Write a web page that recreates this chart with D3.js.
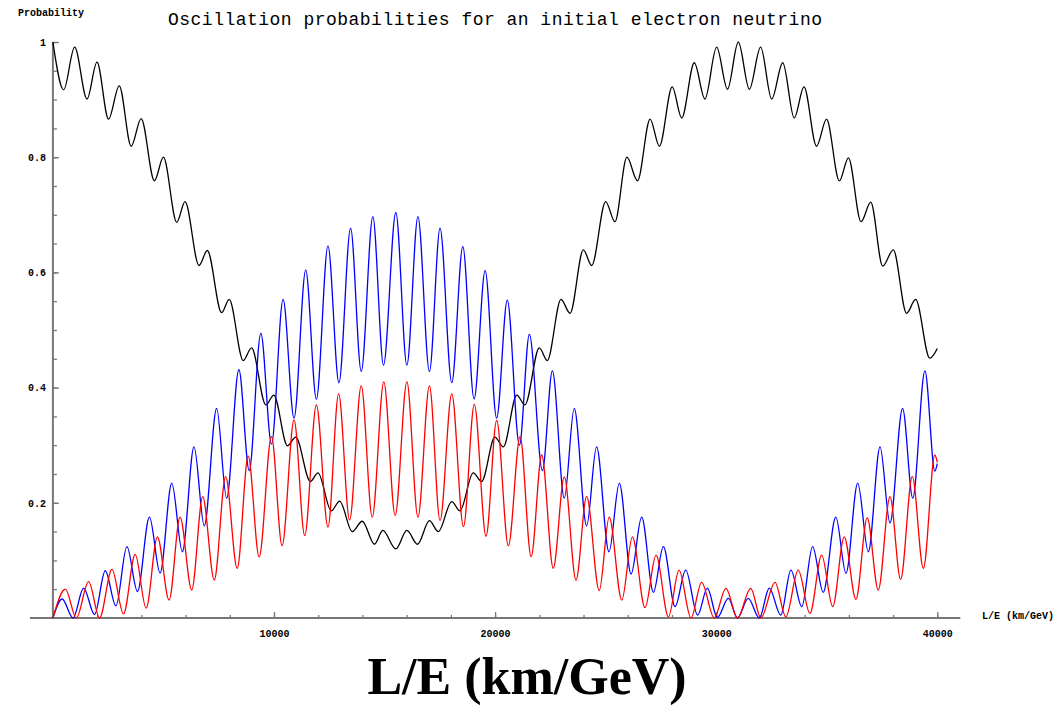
<!DOCTYPE html>
<html>
<head>
<meta charset="utf-8">
<script src="https://cdn.jsdelivr.net/npm/d3@7"></script>
<style>
  body { margin: 0; background: #fff; }
  svg { display: block; }
  .axis text { font-family: "Liberation Mono", monospace; font-weight: bold; font-size: 10px; fill: #000; }
  .axis line { stroke: #777; stroke-width: 1.3; }
</style>
</head>
<body>
<svg id="chart" width="1055" height="705"></svg>
<script>
// tick values
const xTicksMinor = d3.range(2000, 40001, 2000);
const xTicksMajor = [10000, 20000, 30000, 40000];
const yTicksMinor = d3.range(0.05, 1.001, 0.05);
const yTicksMajor = [0.2, 0.4, 0.6, 0.8, 1];

// [L/E, probability] at the turning points of each curve
const pElectron = [
  [0,1.0],[487,.917],[983,.991],[1543,.901],[1994,.965],[2517,.866],[3000,.924],[3541,.819],
  [3992,.867],[4592,.759],[4998,.800],[5602,.687],[5977,.723],[6608,.612],[6983,.638],[7632,.530],
  [7975,.553],[8607,.447],[8985,.469],[9630,.370],[9991,.387],[10609,.299],[10983,.314],[11646,.237],
  [11990,.252],[12593,.186],[12968,.203],[13541,.150],[13992,.168],[14547,.128],[14921,.152],[15510,.120],
  [16010,.152],[16490,.128],[17030,.169],[17430,.150],[18040,.202],[18410,.186],[19010,.252],[19390,.237],
  [19990,.314],[20370,.297],[20980,.387],[21350,.370],[22000,.469],[22360,.447],[22980,.553],[23390,.529],
  [23990,.639],[24370,.612],[25000,.723],[25420,.688],[25960,.800],[26440,.759],[27010,.866],[27430,.819],
  [28010,.922],[28440,.868],[29010,.964],[29490,.901],[30020,.991],[30510,.918],[31000,1.0],[31500,.918],
  [32010,.991],[32510,.901],[33010,.964],[33530,.868],[33970,.922],[34540,.819],[34990,.866],[35570,.759],
  [35980,.799],[36550,.688],[36990,.722],[37530,.611],[38010,.639],[38610,.529],[39020,.553],[39660,.451],
  [40000,.468]
];

const pMuon = [
  [0,0],[415,.033],[911,0],[1389,.052],[1885,.006],[2368,.082],[2851,.021],[3347,.124],
  [3825,.046],[4366,.175],[4849,.078],[5376,.234],[5855,.115],[6382,.297],[6847,.160],[7406,.364],
  [7857,.208],[8412,.431],[8877,.256],[9405,.494],[9887,.302],[10411,.553],[10907,.347],[11434,.604],
  [11917,.380],[12441,.646],[12937,.4085],[13464,.677],[13946,.428],[14470,.697],[14953,.439],[15510,.704],
  [16010,.439],[16510,.697],[17030,.428],[17510,.677],[18040,.4085],[18540,.645],[19050,.380],[19550,.603],
  [20070,.347],[20550,.552],[21100,.300],[21550,.4925],[22140,.256],[22590,.429],[23130,.208],[23580,.364],
  [24140,.160],[24590,.297],[25150,.115],[25620,.234],[26150,.0764],[26630,.175],[27160,.0446],[27610,.124],
  [28140,.0197],[28620,.083],[29160,.005],[29600,.052],[30050,.001],[30550,.034],[30960,0],[31450,.034],
  [31950,0],[32400,.052],[32920,.005],[33380,.083],[33870,.0197],[34360,.124],[34840,.0446],[35410,.175],
  [35870,.0776],[36400,.234],[36880,.115],[37410,.297],[37860,.165],[38430,.364],[38890,.208],[39440,.429],
  [39890,.255],[40000,.268]
];

const pTau = [
  [0,0],[564,.050],[1060,0],[1615,.063],[2111,0],[2670,.0845],[3194,.007],[3721,.1106],
  [4217,.017],[4727,.141],[5255,.031],[5751,.175],[6279,.0486],[6775,.2106],[7298,.066],[7812,.2453],
  [8336,.086],[8832,.281],[9328,.106],[9887,.315],[10366,.1255],[10907,.344],[11389,.143],[11917,.370],
  [12441,.158],[12923,.389],[13419,.170],[13946,.403],[14443,.175],[14966,.410],[15480,.178],[16010,.410],
  [16510,.175],[17030,.403],[17510,.169],[18040,.389],[18570,.1586],[19060,.371],[19590,.142],[20070,.343],
  [20600,.1255],[21130,.315],[21630,.1065],[22110,.283],[22630,.0863],[23130,.245],[23660,.066],[24140,.211],
  [24710,.0475],[25160,.175],[25730,.031],[26210,.141],[26780,.018],[27280,.109],[27840,.002],[28320,.083],
  [28860,0],[29340,.062],[29910,0],[30440,.0516],[30960,0],[31560,.0516],[32020,0],[32660,.062],
  [33150,.002],[33710,.083],[34240,.008],[34770,.109],[35270,.0197],[35790,.141],[36320,.0324],[36830,.174],
  [37330,.0486],[37860,.2106],[38340,.067],[38870,.2453],[39370,.086],[39890,.283],[40000,.27]
];

const series = [
  { name: "e", data: pElectron, color: "#000000" },
  { name: "mu", data: pMuon, color: "#0000ff" },
  { name: "tau", data: pTau, color: "#ff0000" }
];

const svg = d3.select("#chart");

const x = d3.scaleLinear().domain([0, 40000]).range([52.9, 937.3]);
const y = d3.scaleLinear().domain([0, 1]).range([618, 42]);

// axis lines
svg.append("line")
  .attr("x1", x(0) - 23).attr("x2", x(40000) + 23)
  .attr("y1", y(0)).attr("y2", y(0))
  .attr("stroke", "#777").attr("stroke-width", 2);

svg.append("line")
  .attr("x1", x(0)).attr("x2", x(0))
  .attr("y1", y(0)).attr("y2", y(1))
  .attr("stroke", "#777").attr("stroke-width", 2);

// x ticks
svg.append("g")
  .attr("class", "axis")
  .attr("transform", `translate(0,${y(0)})`)
  .call(d3.axisBottom(x).tickValues(xTicksMinor).tickSize(-3).tickFormat(""))
  .call(g => g.select(".domain").remove());

svg.append("g")
  .attr("class", "axis")
  .attr("transform", `translate(0,${y(0)})`)
  .call(d3.axisBottom(x).tickValues(xTicksMajor).tickSize(-6).tickPadding(12).tickFormat(d3.format("d")))
  .call(g => g.select(".domain").remove());

// y ticks
svg.append("g")
  .attr("class", "axis")
  .attr("transform", `translate(${x(0)},0)`)
  .call(d3.axisLeft(y).tickValues(yTicksMinor).tickSize(-4).tickFormat(""))
  .call(g => g.select(".domain").remove());

svg.append("g")
  .attr("class", "axis")
  .attr("transform", `translate(${x(0)},0)`)
  .call(d3.axisLeft(y).tickValues(yTicksMajor).tickSize(-6).tickPadding(7).tickFormat(d => d === 1 ? "1" : d3.format(".1f")(d)))
  .call(g => g.select(".domain").remove());

// curves
const line = d3.line()
  .x(d => x(d[0]))
  .y(d => y(d[1]))
  .curve(d3.curveMonotoneX);

svg.append("g")
  .selectAll("path")
  .data(series)
  .join("path")
  .attr("d", d => line(d.data))
  .attr("fill", "none")
  .attr("stroke", d => d.color)
  .attr("stroke-width", 1.3);

// texts
svg.append("text")
  .attr("x", 18).attr("y", 16)
  .attr("font-family", "Liberation Mono, monospace")
  .attr("font-weight", "bold")
  .attr("font-size", 10)
  .text("Probability");

svg.append("text")
  .attr("x", 982).attr("y", 619)
  .attr("font-family", "Liberation Mono, monospace")
  .attr("font-weight", "bold")
  .attr("font-size", 10)
  .text("L/E (km/GeV)");

svg.append("text")
  .attr("x", 168).attr("y", 25)
  .attr("font-family", "Liberation Mono, monospace")
  .attr("font-size", 18)
  .attr("textLength", 654)
  .attr("lengthAdjust", "spacing")
  .text("Oscillation probabilities for an initial electron neutrino");

svg.append("text")
  .attr("x", 527).attr("y", 694)
  .attr("text-anchor", "middle")
  .attr("font-family", "Liberation Serif, Times New Roman, serif")
  .attr("font-weight", "bold")
  .attr("font-size", 52)
  .text("L/E (km/GeV)");
</script>
</body>
</html>
